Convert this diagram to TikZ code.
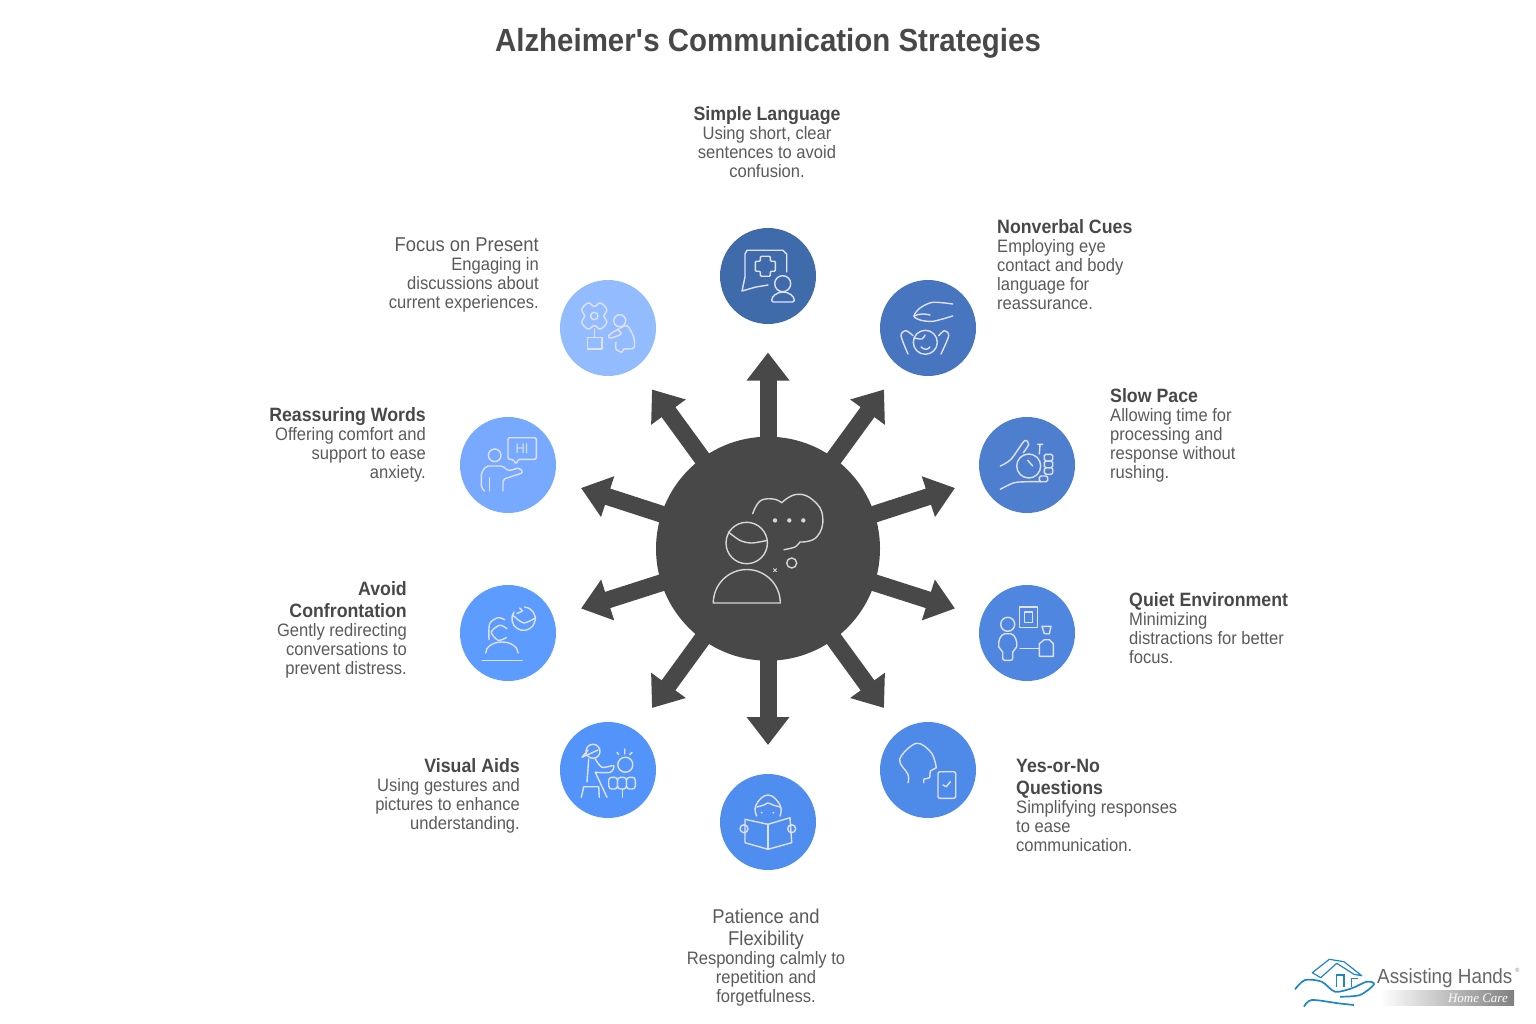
\documentclass[tikz,border=0pt]{standalone}
\usepackage{fontspec}
\usetikzlibrary{arrows.meta}
\setmainfont[FakeStretch=0.92]{Liberation Sans}
\newfontfamily\logoserif{Liberation Serif}
\definecolor{inkdark}{HTML}{484848}
\definecolor{inktext}{HTML}{5A5A5A}
\definecolor{logoblue}{HTML}{1F86C6}
\newcommand{\hb}[1]{{\fontsize{19.3}{22}\selectfont\bfseries\color{inkdark}#1}}
\newcommand{\hr}[1]{{\fontsize{20}{22}\selectfont #1}}
\begin{document}
\begin{tikzpicture}[
            x=1pt, y=-1pt,
            spoke/.style={draw=inkdark, line width=17pt, -{Triangle[length=28pt,width=41pt]}},
            hubnode/.style={circle, fill=inkdark, minimum size=224pt, inner sep=0pt},
            disc/.style={circle, minimum size=96pt, inner sep=0pt},
            icon/.style={draw=white!88!blue, line width=1.4pt, line cap=round, line join=round},
            hubicon/.style={draw=white!84!black, line width=1.4pt, line cap=round, line join=round},
            label/.style={font=\fontsize{18}{19}\selectfont, text=inktext, inner sep=0pt},
            labelleft/.style={label, anchor=north east, align=right},
            labelright/.style={label, anchor=north west, align=left},
            labelmid/.style={label, anchor=north, align=center},
        ]
        \useasboundingbox (0,0) rectangle (1536,1024);
        \node[font=\fontsize{32}{36}\selectfont\bfseries, text=inkdark, inner sep=0pt] (title) at (768,43) {Alzheimer\textquotesingle s Communication Strategies};
        % HUB and arrows
        \node[hubnode] (hub) at (768,548.7) {};
        \coordinate (tip simple) at (768,352.5);
        \coordinate (tip nonverbal) at (884,389.5);
        \coordinate (tip slow) at (955,488);
        \coordinate (tip quiet) at (955,608.5);
        \coordinate (tip yesno) at (884,708);
        \coordinate (tip patience) at (768,745);
        \coordinate (tip visual) at (652,708);
        \coordinate (tip avoid) at (581,608.5);
        \coordinate (tip reassuring) at (581,488);
        \coordinate (tip focus) at (652,389.5);
        \draw[spoke] (hub.center) -- (tip simple);
        \draw[spoke] (hub.center) -- (tip nonverbal);
        \draw[spoke] (hub.center) -- (tip slow);
        \draw[spoke] (hub.center) -- (tip quiet);
        \draw[spoke] (hub.center) -- (tip yesno);
        \draw[spoke] (hub.center) -- (tip patience);
        \draw[spoke] (hub.center) -- (tip visual);
        \draw[spoke] (hub.center) -- (tip avoid);
        \draw[spoke] (hub.center) -- (tip reassuring);
        \draw[spoke] (hub.center) -- (tip focus);
        % Hub icon
        \begin{scope}[shift={(768,548.7)}]
            \draw[hubicon] (-21.3,-5.7) circle (20.7);
            \draw[hubicon] plot[smooth] coordinates {(-39.7,-16.7) (-28,-8.3) (-16.3,-5.7) (-0.7,-8.3)};
            \draw[hubicon] (-54.7,54.3) arc[start angle=180,end angle=360,radius=33.5] -- cycle;
            \draw[hubicon] (23.7,14.3) circle (5);
            \draw[hubicon, line width=0.8pt] (5.5,20) -- (8.5,23) (8.5,20) -- (5.5,23);
            \fill[white!84!black] (7,-28.3) circle (2.2) (21.3,-28.3) circle (2.2) (35.3,-28.3) circle (2.2);
            \draw[hubicon] plot[smooth, tension=0.7] coordinates {(-15.3,-35) (-8,-47.7) (5.3,-49.7) (13.7,-46)};
            \draw[hubicon] plot[smooth, tension=0.8] coordinates {(13.7,-46) (28.7,-54.3) (45.3,-48.3) (54.7,-31.7) (48.7,-11.7) (32,-6.7)};
            \draw[hubicon] plot[smooth] coordinates {(32,-6.7) (27,-1.7) (16,1)};
        \end{scope}
        % Discs
        \node[disc, fill={rgb,255:red,63;green,107;blue,170}] (simple) at (768,276) {};
        \node[disc, fill={rgb,255:red,71;green,117;blue,191}] (nonverbal) at (928,328) {};
        \node[disc, fill={rgb,255:red,78;green,127;blue,207}] (slow) at (1027,465) {};
        \node[disc, fill={rgb,255:red,79;green,134;blue,223}] (quiet) at (1027,633) {};
        \node[disc, fill={rgb,255:red,78;green,138;blue,232}] (yesno) at (928,770) {};
        \node[disc, fill={rgb,255:red,79;green,141;blue,239}] (patience) at (768,822) {};
        \node[disc, fill={rgb,255:red,82;green,148;blue,250}] (visual) at (608,770) {};
        \node[disc, fill={rgb,255:red,92;green,155;blue,255}] (avoid) at (508,633) {};
        \node[disc, fill={rgb,255:red,118;green,169;blue,255}] (reassuring) at (508,465) {};
        \node[disc, fill={rgb,255:red,147;green,188;blue,255}] (focus) at (608,328) {};
        % Simple Language icon
        \begin{scope}[shift={(768,276)}]
            \draw[icon] (18.7,-4) -- (18.7,-22) -- (15,-25.7) -- (-21,-25.7) -- (-23,-22) -- (-23,1) -- (-26,15) -- (-12,11) -- (0,9);
            \draw[icon, rounded corners=1pt] (-7.7,-19.7) -- (2.3,-19.7) -- (2.3,-14.7) -- (7.3,-14.7) -- (7.3,-4.7) -- (2.3,-4.7) -- (2.3,0.3) -- (-7.7,0.3) -- (-7.7,-4.7) -- (-12.7,-4.7) -- (-12.7,-14.7) -- (-7.7,-14.7) -- cycle;
            \draw[icon] (14.7,7.7) circle (8);
            \draw[icon, rounded corners=2pt] (3.7,26) arc[start angle=180,end angle=360,x radius=11.3,y radius=10] -- cycle;
        \end{scope}
        % Nonverbal Cues icon
        \begin{scope}[shift={(928,328)}]
            \draw[icon] plot[smooth] coordinates {(24.7,-24) (4.7,-25.7) (-8,-20) (-14,-12) (-8,-8) (5,-6.7) (24.7,-12)};
            \draw[icon] (-14,-12) .. controls (-8,-15) and (-2,-14) .. (2,-13);
            \draw[icon] (-2.7,14.3) circle (12);
            \draw[icon] plot[smooth] coordinates {(-14,10) (-6,11) (-3,7)};
            \draw[icon] (-7,19) .. controls (-4,22) and (0,22) .. (2,19);
            \draw[icon] plot[smooth] coordinates {(-20,26) (-27,7.7) (-22,2.7) (-15,7.7)};
            \draw[icon] plot[smooth] coordinates {(13,26) (20.7,7.7) (16.3,2.7) (10.7,7.7)};
        \end{scope}
        % Slow Pace icon
        \begin{scope}[shift={(1027,465)}]
            \draw[icon] (1.7,1) circle (12);
            \draw[icon] plot[smooth] coordinates {(-26.7,1) (-16,-5.7) (-2.7,-24) (1.7,-20.7) (-3.7,-12.3)};
            \draw[icon] plot[smooth] coordinates {(-26.7,24.3) (-12.7,17.7) (2.3,16.7) (14,16.7)};
            \draw[icon, rounded corners=1.5pt] (17.3,-10.7) rectangle (25.7,-4);
            \draw[icon, rounded corners=1.5pt] (17.3,-4) rectangle (25.7,2.7);
            \draw[icon, rounded corners=1.5pt] (17.3,2.7) rectangle (25.7,9.3);
            \draw[icon, rounded corners=1.5pt] (12.3,11) rectangle (20.7,16.7);
            \draw[icon] (10.7,-20.7) -- (15.7,-20.7) (13,-20.7) -- (12.3,-11);
            \draw[icon] (0.7,-4.7) -- (5.7,1);
        \end{scope}
        % Quiet Environment icon
        \begin{scope}[shift={(1027,633)}]
            \draw[icon] (-7.7,-26) rectangle (10.7,-5.3);
            \draw[icon] (-2.7,-21) rectangle (5.7,-10.3);
            \draw[icon] (-19.3,-8.7) circle (7);
            \draw[icon, rounded corners=2pt] (-24.3,27.3) -- (-24.3,17.3) -- (-28.3,15.7) -- (-28.3,7.3) -- (-24.3,0.7) -- (-14.3,0.7) -- (-10.3,7.3) -- (-10.3,15.7) -- (-14.3,17.3) -- (-14.3,27.3) -- cycle;
            \draw[icon] (-7,15.7) -- (11.7,15.7);
            \draw[icon] (12.3,23.3) -- (12.3,10.7) -- (17.3,6.7) -- (22.3,6.7) -- (26.3,10.7) -- (26.3,23.3) -- cycle;
            \draw[icon] (15,-6.7) -- (24,-6.7) -- (22.3,0.7) -- (17.3,0.7) -- cycle;
        \end{scope}
        % Yes-or-No icon
        \begin{scope}[shift={(928,770)}]
            \draw[icon] plot[smooth, tension=0.6] coordinates {(-20,12.7) (-20,4.3) (-28.3,-10.7) (-11.7,-26.7) (3.3,-17.3) (8.3,-2.3)};
            \draw[icon] (8.3,-2.3) -- (2.3,1) -- (1.7,7.7) -- (-4.3,9.3) -- (-4.3,12.7);
            \draw[icon, rounded corners=2pt] (10,1.7) rectangle (27.7,28.3);
            \draw[icon] (15,15) -- (18.3,16.7) -- (22.3,11.7);
        \end{scope}
        % Patience icon
        \begin{scope}[shift={(768,822)}]
            \draw[icon] plot[smooth, tension=0.8] coordinates {(-11.3,-6) (-12,-17) (0,-27) (12,-17) (12,-6)};
            \draw[icon] plot[smooth] coordinates {(-11,-15) (-4,-17) (0,-19) (5,-17) (12,-15)};
            \fill[white!88!blue] (-6.3,-9.3) circle (1) (5.3,-9.3) circle (1);
            \draw[icon] (-23,-2.7) -- (0,2.3) -- (22,-4.3) -- (23.7,20.7) -- (0,27.3) -- (-23,20.7) -- cycle;
            \draw[icon] (0,2.3) -- (0,27.3);
            \draw[icon] (-24,6.7) circle (4) (23.7,6.7) circle (4);
        \end{scope}
        % Visual Aids icon
        \begin{scope}[shift={(608,770)}]
            \draw[icon] (-15,-18.7) circle (7);
            \draw[icon] (-26,-12.7) -- (-20,-20) (-26,-12.7) -- (-10,-20);
            \draw[icon] (-19.3,-11) -- (-21,12);
            \draw[icon] plot[smooth] coordinates {(-12.7,-11) (-6,-2.7) (5.7,-4.3) (2.3,2.3) (-12.7,2.3)};
            \draw[icon] (-12.7,2.3) -- (-1,27.3);
            \draw[icon] (-26.7,27.3) -- (-24.3,16.7) -- (-9.3,16.7) -- (-8.7,27.3);
            \draw[icon] (17.3,-5.3) circle (7.5);
            \draw[icon] (9,-17.7) -- (10.7,-15.3) (16.7,-21) -- (16.7,-16) (24,-17.7) -- (21.7,-15.3);
            \draw[icon, rounded corners=3pt] (0.7,7.3) rectangle (9.5,19);
            \draw[icon, rounded corners=3pt] (9.5,7.3) rectangle (18.5,19);
            \draw[icon, rounded corners=3pt] (18.5,7.3) rectangle (27.3,19);
            \draw[icon] (14.7,19) -- (14.7,27.3);
        \end{scope}
        % Avoid Confrontation icon
        \begin{scope}[shift={(508,633)}]
            \draw[icon] (6,-21) arc[start angle=215,end angle=-85,radius=11.7];
            \draw[icon] plot[smooth] coordinates {(5,-17.7) (15.7,-10) (27.7,-15.3)};
            \draw[icon] (11.7,-25) -- (14.5,-22) -- (9,-19.5);
            \draw[icon] plot[smooth] coordinates {(-19,6.7) (-18.3,-9.3) (-10,-15.3) (-3.3,-13.3)};
            \draw[icon] plot[smooth] coordinates {(-1,-4.3) (-8.3,-7.7) (-16.7,-1) (-10,7.3) (-1.7,4.7)};
            \draw[icon] (-22.3,20) arc[start angle=180,end angle=360,x radius=16.2,y radius=11];
            \draw[icon] (-25.7,27.3) -- (14.3,27.3);
        \end{scope}
        % Reassuring Words icon
        \begin{scope}[shift={(508,465)}]
            \draw[icon, rounded corners=1.5pt] (0,-27.3) -- (28.3,-27.3) -- (28.3,-5.7) -- (10,-5.7) -- (8.3,-0.7) -- (5,-5.7) -- (0,-5.7) -- cycle;
            \node[font=\fontsize{14}{14}\selectfont, text=white!88!blue, inner sep=0pt] (hi) at (14,-16.5) {HI};
            \draw[icon] (-13.3,-9.7) circle (6.3);
            \draw[icon, rounded corners=2pt] (-23.3,26) -- (-26.7,22.7) -- (-26.7,7.7) -- (-21.7,1) -- (-5,1) -- (0,6) -- (11.7,2.7) -- (15,7.7) -- (-5,14.3) -- (-5,26);
            \draw[icon] (-18.3,12.7) -- (-18.3,26);
        \end{scope}
        % Focus on Present icon
        \begin{scope}[shift={(608,328)}]
            \draw[icon] plot[smooth cycle, tension=0.7] coordinates {(-13.7,-21.5) (-7.7,-25) (-1.2,-18.5) (-4.2,-12) (-1.2,-5.5) (-7.7,1) (-13.7,-2.5) (-19.7,1) (-26.2,-5.5) (-23.2,-12) (-26.2,-18.5) (-19.7,-25)};
            \draw[icon] (-13.7,-12) circle (3.7);
            \draw[icon] (-13.7,1) -- (-13.7,9.5);
            \draw[icon] (-20.3,9.5) rectangle (-6,21);
            \draw[icon] (11.7,-7.3) circle (6);
            \draw[icon] plot[smooth] coordinates {(9,2) (19,-2.3) (25.7,9.3) (25.7,20) (15.7,21) (14,24.3) (8,21) (8,14.3)};
            \draw[icon] plot[smooth cycle] coordinates {(9,2) (0.7,7.7) (3,10) (13,6)};
        \end{scope}
        % Labels
        \node[labelmid] (simple text) at (767,106) {\hb{Simple Language}\\Using short, clear\\sentences to avoid\\confusion.};
        \node[labelright] (nonverbal text) at (997,219) {\hb{Nonverbal Cues}\\Employing eye\\contact and body\\language for\\reassurance.};
        \node[labelright] (slow text) at (1110,388) {\hb{Slow Pace}\\Allowing time for\\processing and\\response without\\rushing.};
        \node[labelright] (quiet text) at (1129,592) {\hb{Quiet Environment}\\Minimizing\\distractions for better\\focus.};
        \node[labelright] (yesno text) at (1016,759) {\hb{Yes-or-No}\\[3pt]\hb{Questions}\\Simplifying responses\\to ease\\communication.};
        \node[labelmid] (patience text) at (766,909) {\hr{Patience and}\\[3pt]\hr{Flexibility}\\Responding calmly to\\repetition and\\forgetfulness.};
        \node[labelleft] (visual text) at (520,758) {\hb{Visual Aids}\\Using gestures and\\pictures to enhance\\understanding.};
        \node[labelleft] (avoid text) at (407,581) {\hb{Avoid}\\[3pt]\hb{Confrontation}\\Gently redirecting\\conversations to\\prevent distress.};
        \node[labelleft] (reassuring text) at (426,407) {\hb{Reassuring Words}\\Offering comfort and\\support to ease\\anxiety.};
        \node[labelleft] (focus text) at (539,238) {\hr{Focus on Present}\\Engaging in\\discussions about\\current experiences.};
        % Logo
        \draw[logoblue, line width=1.2pt, line join=round] (1320.7,977.7) -- (1312.3,972.7) -- (1329.3,959.3) -- (1344,961.7) -- (1361.7,975.7) -- (1354,974.3) -- (1336.7,963.3) -- cycle;
        \draw[logoblue, line width=1.3pt] (1336.7,986.7) -- (1336.7,975) -- (1344,975) -- (1344,986.7);
        \draw[logoblue, line width=1.3pt] (1351.7,986.7) -- (1351.7,978.3) -- (1358.3,978.3);
        \draw[logoblue, line width=1.7pt, line join=round] plot[smooth, tension=0.5] coordinates {(1295,989.3) (1305,980) (1321.7,981.7) (1335,991.7) (1351.7,988.3) (1366.7,981.7) (1374,984.3) (1360,995) (1340,996.7)};
        \draw[logoblue, line width=1.7pt, line join=round] plot[smooth, tension=0.5] coordinates {(1304,1006.7) (1311.7,1000) (1338.3,1003.3) (1354,1005)};
        \shade[left color=white, right color=black!50] (1380,990) rectangle (1514,1005);
        \node[font=\fontsize{20.5}{22}\selectfont, text=black!60, anchor=west, inner sep=0pt] (logo name) at (1377,978.5) {Assisting Hands};
        \node[font=\fontsize{6}{6}\selectfont, text=black!50, inner sep=0pt] (logo mark) at (1517.5,970) {®};
        \node[font=\logoserif\itshape\fontsize{13}{13}\selectfont, text=white, anchor=east, inner sep=0pt] (logo care) at (1508,998) {Home Care};
\end{tikzpicture}
\end{document}
